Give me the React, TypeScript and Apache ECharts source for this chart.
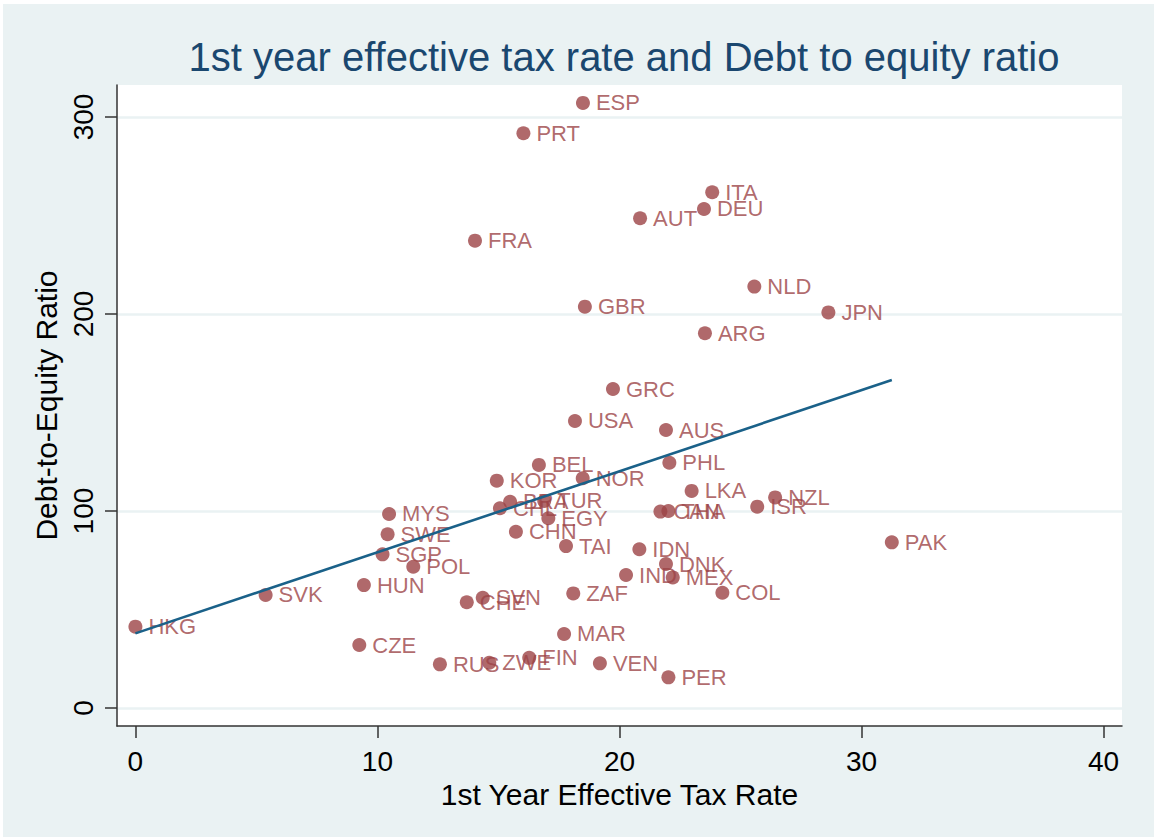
import React, { useEffect, useRef } from "react";
import * as echarts from "echarts";

const countries = ["ESP","PRT","ITA","DEU","AUT","FRA","NLD","GBR","JPN","ARG","GRC","USA","AUS","BEL","PHL","KOR","NOR","LKA","NZL","ISR","BRA","CHL","TUR","EGY","CHN","TAI","CAN","THA","MYS","SWE","SGP","POL","HUN","IDN","DNK","IND","MEX","COL","PAK","ZAF","SVN","CHE","SVK","HKG","MAR","CZE","FIN","ZWE","RUS","VEN","PER"];
const taxRate = [18.49,16.03,23.83,23.49,20.85,14.03,25.57,18.57,28.63,23.53,19.73,18.16,21.92,16.67,22.06,14.93,18.48,22.98,26.43,25.69,15.48,15.06,16.89,17.06,15.72,17.79,21.69,22.02,10.48,10.42,10.21,11.48,9.44,20.82,21.92,20.27,22.2,24.25,31.25,18.09,14.35,13.69,5.38,0.0,17.71,9.25,16.27,14.62,12.58,19.19,22.02];
const debtEquity = [307.1,291.7,261.8,253.3,248.6,237.2,213.9,203.7,200.8,190.2,161.9,145.7,141.1,123.4,124.5,115.4,116.6,110.2,106.9,102.2,104.7,101.4,105.1,96.3,89.5,82.2,99.7,100.0,98.5,88.2,78.0,71.7,62.4,80.6,73.1,67.5,66.3,58.5,84.1,58.2,56.0,53.7,57.4,41.3,37.6,32.0,25.5,23.0,22.2,22.7,15.6];

const fitX = [0, 31.25];
const fitY = [37.9, 166.5];

const xTicks = [0, 10, 20, 30, 40];
const yTicks = [0, 100, 200, 300];

const FONT = "'Liberation Sans', Arial, Helvetica, sans-serif";
const MAROON = "#9C4346";
const LINE = "#1A6189";
const BG = "#EAF2F3";

export default function App() {
  const ref = useRef<HTMLDivElement>(null);
  useEffect(() => {
    if (!ref.current) return;
    const chart = echarts.init(ref.current, null, { renderer: "svg" });
    const points = countries.map((c, i) => ({ name: c, value: [taxRate[i], debtEquity[i]] }));
    const fit = fitX.map((x, i) => [x, fitY[i]]);
    chart.setOption({
      animation: false,
      backgroundColor: BG,
      textStyle: { fontFamily: FONT },
      title: {
        text: "1st year effective tax rate and Debt to equity ratio",
        left: 616,
        textAlign: "center",
        top: 28,
        textStyle: { color: "#1A476F", fontSize: 40, fontWeight: "normal", fontFamily: FONT },
      },
      grid: {
        left: 114,
        top: 81,
        right: 32,
        bottom: 111,
        show: true,
        backgroundColor: "#FFFFFF",
        borderWidth: 0,
      },
      xAxis: {
        type: "value",
        min: -0.76,
        max: 40.76,
        name: "1st Year Effective Tax Rate",
        nameLocation: "middle",
        nameGap: 43,
        nameTextStyle: { color: "#000", fontSize: 30, fontFamily: FONT },
        axisLine: { show: true, onZero: false, lineStyle: { color: "#333", width: 1.5 } },
        axisTick: { show: true, length: 12, customValues: xTicks, lineStyle: { color: "#333", width: 1.5 } },
        axisLabel: { customValues: xTicks, color: "#000", fontSize: 28, margin: 21, fontFamily: FONT },
        splitLine: { show: false },
      },
      yAxis: {
        type: "value",
        min: -9.1,
        max: 316.2,
        name: "Debt-to-Equity Ratio",
        nameLocation: "middle",
        nameGap: 46,
        nameTextStyle: { color: "#000", fontSize: 30, fontFamily: FONT },
        axisLine: { show: true, onZero: false, lineStyle: { color: "#333", width: 1.5 } },
        axisTick: { show: true, length: 12, customValues: yTicks, lineStyle: { color: "#333", width: 1.5 } },
        axisLabel: { customValues: yTicks, color: "#000", fontSize: 28, margin: 20, rotate: 90, fontFamily: FONT },
        splitLine: { show: true, lineStyle: { color: BG, width: 2.5 } },
      },
      series: [
        {
          type: "scatter",
          data: points,
          symbol: "circle",
          symbolSize: 14,
          itemStyle: { color: MAROON },
          z: 3,
          label: {
            show: true,
            position: "right",
            distance: 6,
            formatter: "{b}",
            color: MAROON,
            fontSize: 22,
            fontFamily: FONT,
          },
        },
        {
          type: "line",
          data: fit,
          showSymbol: false,
          symbol: "none",
          z: 4,
          lineStyle: { color: LINE, width: 2.6 },
        },
      ],
    });
    return () => chart.dispose();
  }, []);
  return (
    <div style={{ position: "fixed", left: 0, top: 0, width: 1154, height: 837, background: "#FFFFFF" }}>
      <div ref={ref} style={{ position: "absolute", left: 3, top: 4, width: 1151, height: 833 }} />
    </div>
  );
}
